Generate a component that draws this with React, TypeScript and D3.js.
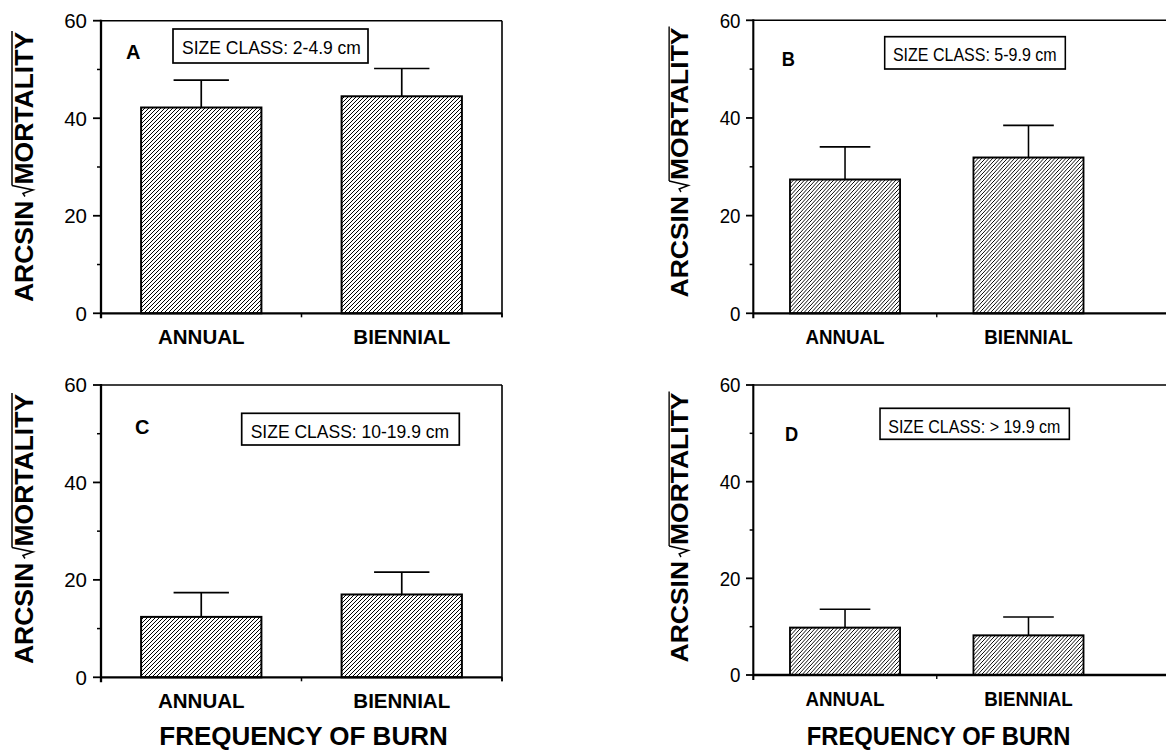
import React, { useEffect, useRef } from 'react';
import * as d3 from 'd3';

const categories = ['ANNUAL', 'BIENNIAL'];
const panelLetters = ['A', 'B', 'C', 'D'];
const sizeClassLabels = [
  'SIZE CLASS: 2-4.9 cm',
  'SIZE CLASS: 5-9.9 cm',
  'SIZE CLASS: 10-19.9 cm',
  'SIZE CLASS: > 19.9 cm',
];
const meansA = [42.2, 44.5];
const errsA = [5.6, 5.7];
const meansB = [27.4, 31.9];
const errsB = [6.7, 6.6];
const meansC = [12.4, 17.0];
const errsC = [5.0, 4.6];
const meansD = [9.8, 8.2];
const errsD = [3.8, 3.8];
const majorTicks = [0, 20, 40, 60];
const minorTicks = [10, 30, 50];
const yTitleLeft = 'ARCSIN';
const yTitleRoot = 'MORTALITY';
const xTitle = 'FREQUENCY OF BURN';

const panelMeans = [meansA, meansB, meansC, meansD];
const panelErrs = [errsA, errsB, errsC, errsD];

const layouts = [
  { ax: 101, sx: 1, top: 20.7, bottom: 313.3, crop: false, letter: [25, 59], box: [72, 29, 267, 63], titleX: -68, titleY: 167, freq: false },
  { ax: 753.3, sx: 0.915, top: 20.3, bottom: 313.3, crop: true, letter: [31, 66], box: [143.6, 36.7, 341, 69], titleX: -71, titleY: 162.5, freq: false },
  { ax: 101, sx: 1, top: 385, bottom: 677.3, crop: false, letter: [34, 434], box: [140.7, 413.3, 358.3, 445], titleX: -68, titleY: 529, freq: true },
  { ax: 753.3, sx: 0.915, top: 385, bottom: 675, crop: true, letter: [34.6, 441], box: [138.5, 408.3, 345.4, 439.3], titleX: -71, titleY: 527.5, freq: true },
];

const FONT = "'Liberation Sans', Arial, Helvetica, sans-serif";
const W = 1166;
const H = 750;
const PW = 401;

export default function App() {
  const ref = useRef<SVGSVGElement | null>(null);

  useEffect(() => {
    document.body.style.margin = '0';
    const svg = d3.select(ref.current);
    svg.selectAll('*').remove();

    const defs = svg.append('defs');
    const pat = defs
      .append('pattern')
      .attr('id', 'hatch')
      .attr('patternUnits', 'userSpaceOnUse')
      .attr('width', 4)
      .attr('height', 4);
    pat.append('rect').attr('width', 4).attr('height', 4).attr('fill', '#fff');
    pat
      .append('path')
      .attr('d', 'M-1,1 L1,-1 M0,4 L4,0 M3,5 L5,3')
      .attr('stroke', '#000')
      .attr('stroke-width', 1.0);

    layouts.forEach((L, i) => {
      const g = svg
        .append('g')
        .attr('transform', `translate(${L.ax},0) scale(${L.sx},1)`);
      const x = d3
        .scaleBand<string>()
        .domain(categories)
        .range([0, PW])
        .paddingInner(0.4)
        .paddingOuter(0.2);
      const y = d3.scaleLinear().domain([0, 60]).range([L.bottom, L.top]);
      const right = L.crop ? (W - L.ax) / L.sx + 5 : PW;

      g.append('line')
        .attr('x1', 0).attr('x2', right)
        .attr('y1', y(60)).attr('y2', y(60))
        .attr('stroke', '#000').attr('stroke-width', 1.6);
      if (!L.crop) {
        g.append('line')
          .attr('x1', PW).attr('x2', PW)
          .attr('y1', y(60)).attr('y2', y(0) + 4)
          .attr('stroke', '#000').attr('stroke-width', 1.6);
      }

      const means = panelMeans[i];
      const errs = panelErrs[i];
      const bw = x.bandwidth();
      categories.forEach((c, j) => {
        const x0 = x(c) as number;
        const cx = x0 + bw / 2;
        g.append('line')
          .attr('x1', cx).attr('x2', cx)
          .attr('y1', y(means[j])).attr('y2', y(means[j] + errs[j]))
          .attr('stroke', '#000').attr('stroke-width', 1.7);
        g.append('line')
          .attr('x1', cx - bw * 0.23).attr('x2', cx + bw * 0.23)
          .attr('y1', y(means[j] + errs[j])).attr('y2', y(means[j] + errs[j]))
          .attr('stroke', '#000').attr('stroke-width', 1.7);
        g.append('rect')
          .attr('x', x0).attr('width', bw)
          .attr('y', y(means[j])).attr('height', y(0) - y(means[j]))
          .attr('fill', 'url(#hatch)')
          .attr('stroke', '#000').attr('stroke-width', 2);
        g.append('text')
          .attr('x', cx).attr('y', y(0) + 31)
          .attr('text-anchor', 'middle')
          .attr('font-family', FONT).attr('font-weight', 'bold')
          .attr('font-size', 20.5)
          .text(c);
      });

      g.append('line')
        .attr('x1', 0).attr('x2', right)
        .attr('y1', y(0)).attr('y2', y(0))
        .attr('stroke', '#000').attr('stroke-width', 2.3);
      const xt = L.crop ? [PW / 2] : [PW / 2, PW];
      xt.forEach((t) => {
        g.append('line')
          .attr('x1', t).attr('x2', t)
          .attr('y1', y(0)).attr('y2', y(0) + 4)
          .attr('stroke', '#000').attr('stroke-width', 1.5);
      });

      g.append('line')
        .attr('x1', 0).attr('x2', 0)
        .attr('y1', y(60) - 1).attr('y2', y(0) + 5)
        .attr('stroke', '#000').attr('stroke-width', 2.3);
      majorTicks.forEach((t) => {
        g.append('line')
          .attr('x1', -8).attr('x2', 0)
          .attr('y1', y(t)).attr('y2', y(t))
          .attr('stroke', '#000').attr('stroke-width', 1.8);
        g.append('text')
          .attr('x', -14).attr('y', y(t))
          .attr('dy', '0.36em')
          .attr('text-anchor', 'end')
          .attr('font-family', FONT).attr('font-size', 20.5)
          .text(String(t));
      });
      minorTicks.forEach((t) => {
        g.append('line')
          .attr('x1', -4).attr('x2', 0)
          .attr('y1', y(t)).attr('y2', y(t))
          .attr('stroke', '#000').attr('stroke-width', 1.5);
      });

      g.append('text')
        .attr('x', L.letter[0]).attr('y', L.letter[1])
        .attr('font-family', FONT).attr('font-weight', 'bold')
        .attr('font-size', 20)
        .text(panelLetters[i]);

      const [bx0, by0, bx1, by1] = L.box;
      g.append('rect')
        .attr('x', bx0).attr('y', by0)
        .attr('width', bx1 - bx0).attr('height', by1 - by0)
        .attr('fill', '#fff').attr('stroke', '#000').attr('stroke-width', 1.7);
      g.append('text')
        .attr('x', bx0 + 9).attr('y', by0 + 24.5)
        .attr('font-family', FONT).attr('font-size', 17.5)
        .text(sizeClassLabels[i]);

      const tg = g
        .append('g')
        .attr('transform', `translate(${L.titleX},${L.titleY}) rotate(-90)`);
      const inner = tg.append('g');
      const fs = 26.5;
      const t1 = inner
        .append('text')
        .attr('x', 0).attr('y', 0)
        .attr('font-family', FONT).attr('font-weight', 'bold')
        .attr('font-size', fs)
        .text(yTitleLeft);
      const w1 = (t1.node() as SVGTextElement).getComputedTextLength();
      const r0 = w1 + 4;
      const rEnd = r0 + 11;
      const oh = -21;
      inner
        .append('path')
        .attr('d', `M${r0},-8 L${r0 + 3},-10 L${r0 + 6.5},0 L${rEnd},${oh}`)
        .attr('fill', 'none')
        .attr('stroke', '#000').attr('stroke-width', 1.5);
      const t2 = inner
        .append('text')
        .attr('x', rEnd + 1).attr('y', 0)
        .attr('font-family', FONT).attr('font-weight', 'bold')
        .attr('font-size', fs)
        .text(yTitleRoot);
      const w2 = (t2.node() as SVGTextElement).getComputedTextLength();
      const total = rEnd + 1 + w2;
      inner
        .append('line')
        .attr('x1', rEnd).attr('x2', total + 1)
        .attr('y1', oh).attr('y2', oh)
        .attr('stroke', '#000').attr('stroke-width', 1.5);
      inner.attr('transform', `translate(${-total / 2},0)`);

      if (L.freq) {
        g.append('text')
          .attr('x', PW / 2 + 2).attr('y', 745)
          .attr('text-anchor', 'middle')
          .attr('font-family', FONT).attr('font-weight', 'bold')
          .attr('font-size', 26)
          .text(xTitle);
      }
    });
  }, []);

  return (
    <svg
      ref={ref}
      width={W}
      height={H}
      viewBox={`0 0 ${W} ${H}`}
      style={{ display: 'block', position: 'absolute', left: 0, top: 0, background: '#fff' }}
    />
  );
}
